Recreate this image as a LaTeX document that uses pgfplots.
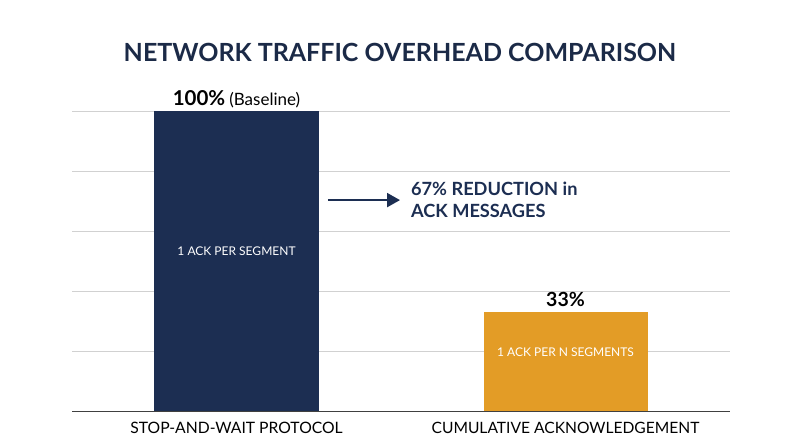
\documentclass[border=0pt]{standalone}
\usepackage{pgfplots}
\pgfplotsset{compat=1.18}
\usetikzlibrary{arrows.meta}
\usepackage{fontspec}
\setmainfont{Lato}
\setsansfont{Lato}
\definecolor{navy}{HTML}{1C2E52}
\definecolor{ambr}{HTML}{E39C26}
\definecolor{titlec}{HTML}{1B2A47}
\begin{document}
\begin{tikzpicture}[x=1pt,y=1pt]
\path[use as bounding box] (0,0) rectangle (800,447);
\node[font=\fontsize{25}{28}\selectfont\bfseries, text=titlec] at (400,395) {NETWORK TRAFFIC OVERHEAD COMPARISON};
\begin{axis}[
  at={(72pt,36pt)}, anchor=south west,
  scale only axis, width=658pt, height=300pt,
  xmin=-0.5, xmax=1.5, ymin=0, ymax=100,
  axis line style={draw=none},
  major tick length=0pt,
  ytick={20,40,60,80,100},
  yticklabels={},
  ymajorgrids, grid style={black!18, line width=0.8pt},
  xtick=\empty,
  clip=false,
]
\addplot[ybar, bar width=165pt, fill=navy, draw=none] coordinates {(0,100)};
\addplot[ybar, bar width=164pt, fill=ambr, draw=none] coordinates {(1,33)};
\draw[black!75, line width=0.9pt] (axis cs:-0.5,0) -- (axis cs:1.5,0);
\node[font=\fontsize{15.7}{18}\selectfont] at (axis cs:0,-5.7) {STOP-AND-WAIT PROTOCOL};
\node[font=\fontsize{15.6}{18}\selectfont] at (axis cs:1,-5.7) {CUMULATIVE ACKNOWLEDGEMENT};
\node[anchor=base] at (axis cs:0,101.7) {{\fontsize{20.5}{22}\selectfont\bfseries 100\%}\hspace{4pt}{\fontsize{17}{19}\selectfont(Baseline)}};
\node[font=\fontsize{19.5}{22}\selectfont\bfseries, anchor=base] at (axis cs:1,34.8) {33\%};
\node[font=\fontsize{12}{14}\selectfont, text=white] at (axis cs:0,53.3) {1 ACK PER SEGMENT};
\node[font=\fontsize{12}{14}\selectfont, text=white] at (axis cs:1,19.7) {1 ACK PER N SEGMENTS};
\draw[navy, line width=2.2pt, arrows={-Triangle[length=13pt,width=14pt]}] (axis cs:0.278,70.3) -- (axis cs:0.497,70.3);
\node[font=\fontsize{18.2}{22}\selectfont\bfseries, text=navy, anchor=west, align=left] at (axis cs:0.52,70.5) {67\% REDUCTION in\\ACK MESSAGES};
\end{axis}
\end{tikzpicture}
\end{document}
